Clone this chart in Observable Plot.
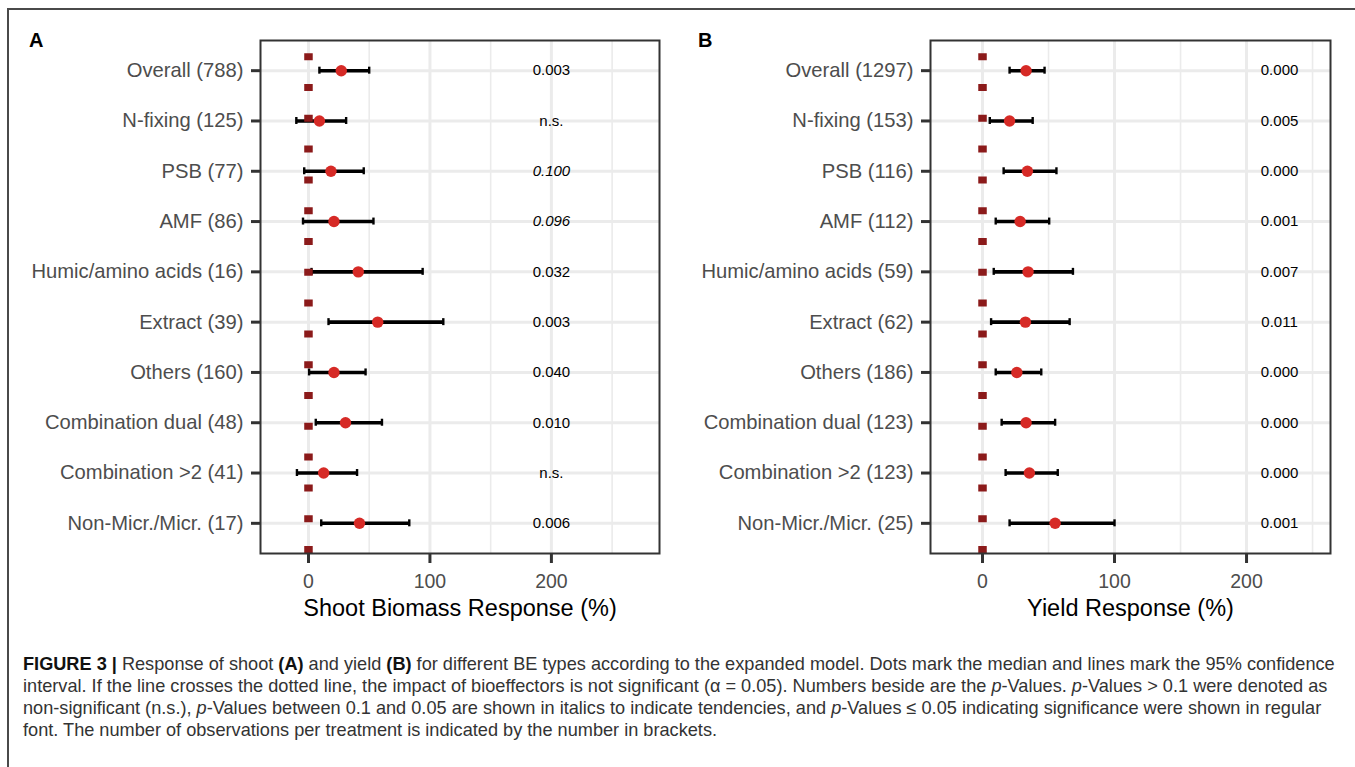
<!DOCTYPE html>
<html>
<head>
<meta charset="utf-8">
<script src="https://cdn.jsdelivr.net/npm/d3@7"></script>
<script src="https://cdn.jsdelivr.net/npm/@observablehq/plot@0.6"></script>
<style>
html, body { margin: 0; padding: 0; background: #fff; overflow: hidden; width: 1355px; height: 767px; }
#root { position: relative; width: 1355px; height: 767px; font-family: Arial, "Liberation Sans", Helvetica, sans-serif; overflow: hidden; background: #fff; }
.outer { position: absolute; left: 7px; top: 8px; width: 1500px; height: 900px; border: 2px solid #4a4a4a; box-sizing: border-box; }
.tag { position: absolute; top: 28px; font-weight: bold; font-size: 20px; color: #000; line-height: 24px; z-index: 2; }
#panelA { position: absolute; left: 0; top: 0; z-index: 1; }
#panelB { position: absolute; left: 680px; top: 0; z-index: 1; }
.caption { position: absolute; left: 23px; top: 653px; font-size: 18px; line-height: 22px; color: #333; }
.caption div { white-space: nowrap; }
.caption b { color: #111; }
</style>
</head>
<body>
<div id="root">
  <div class="outer"></div>
  <div id="panelA"></div>
  <div id="panelB"></div>
  <div class="tag" style="left:29px">A</div>
  <div class="tag" style="left:698px">B</div>
  <div class="caption" id="caption">
    <div id="cap1"><b>FIGURE 3 |</b> Response of shoot <b>(A)</b> and yield <b>(B)</b> for different BE types according to the expanded model. Dots mark the median and lines mark the 95% confidence</div>
    <div>interval. If the line crosses the dotted line, the impact of bioeffectors is not significant (α = 0.05). Numbers beside are the <i>p</i>-Values. <i>p</i>-Values &gt; 0.1 were denoted as</div>
    <div>non-significant (n.s.), <i>p</i>-Values between 0.1 and 0.05 are shown in italics to indicate tendencies, and <i>p</i>-Values ≤ 0.05 indicating significance were shown in regular</div>
    <div>font. The number of observations per treatment is indicated by the number in brackets.</div>
  </div>
</div>
<script>
// ---------- DATA ----------
const categories = ["Overall", "N-fixing", "PSB", "AMF", "Humic/amino acids", "Extract", "Others", "Combination dual", "Combination >2", "Non-Micr./Micr."];

// Panel A: shoot biomass response (%)
const shootN      = [788, 125, 77, 86, 16, 39, 160, 48, 41, 17];
const shootMedian = [27, 9, 18.5, 21, 41, 57, 21, 30.5, 12.5, 42];
const shootLow    = [9, -10, -3.5, -4.5, 2.5, 16.5, 0.5, 6, -9.5, 10.5];
const shootHigh   = [50, 31, 45.5, 53.5, 94, 111, 47, 60.5, 40, 83];
const shootP      = ["0.003", "n.s.", "0.100", "0.096", "0.032", "0.003", "0.040", "0.010", "n.s.", "0.006"];
const shootPColumn = 200;

// Panel B: yield response (%)
const yieldN      = [1297, 153, 116, 112, 59, 62, 186, 123, 123, 25];
const yieldMedian = [33, 20.5, 34, 28.5, 34.5, 32.5, 26, 33, 35.5, 55];
const yieldLow    = [20.5, 5.5, 16, 10, 8.5, 6.5, 10, 14.5, 17.5, 20.5];
const yieldHigh   = [47, 38, 56, 50.5, 68.5, 66, 44.5, 55, 57, 100];
const yieldP      = ["0.000", "0.005", "0.000", "0.001", "0.007", "0.011", "0.000", "0.000", "0.000", "0.001"];
const yieldPColumn = 225;

const xTicks = [0, 100, 200];
const xMinorTicks = [50, 150, 250];
const referenceLine = [0];

// ---------- DRAW ----------
function panel({n, median, low, high, p, pColumn, xDomain, title, width, marginLeft, marginRight}) {
  const rows = categories.map((c, i) => ({
    label: `${c} (${n[i]})`, lo: low[i], mid: median[i], hi: high[i], p: p[i],
    italic: p[i] !== "n.s." && +p[i] > 0.05
  }));
  const labels = rows.map(d => d.label);
  const height = 630, marginTop = 40, marginBottom = 77;
  const L = height - marginTop - marginBottom;
  const paddingOuter = 0.1;
  const step = L / (labels.length + 2 * paddingOuter);
  const capHalf = 3.5;
  const capInset = step / 2 - capHalf;
  const dash = 7, period = 30.8;
  const dashOffset = (((dash - L) % period) + period) % period;
  const grid = "#EBEBEB";
  return Plot.plot({
    width, height, marginLeft, marginRight, marginTop, marginBottom,
    style: {fontFamily: "Arial, 'Liberation Sans', Helvetica, sans-serif", background: "transparent", overflow: "visible"},
    x: {domain: xDomain, ticks: xTicks},
    y: {type: "band", domain: labels, paddingInner: 0, paddingOuter, round: false},
    marks: [
      Plot.ruleX(xMinorTicks, {stroke: grid, strokeWidth: 1.6}),
      Plot.ruleX(xTicks, {stroke: grid, strokeWidth: 3}),
      Plot.ruleY(labels, {y: d => d, stroke: grid, strokeWidth: 3}),
      Plot.ruleY(rows, {y: "label", x1: "lo", x2: "hi", stroke: "black", strokeWidth: 3.6}),
      Plot.tickX(rows, {x: "lo", y: "label", insetTop: capInset, insetBottom: capInset, stroke: "black", strokeWidth: 2.4}),
      Plot.tickX(rows, {x: "hi", y: "label", insetTop: capInset, insetBottom: capInset, stroke: "black", strokeWidth: 2.4}),
      Plot.ruleX(referenceLine, {stroke: "#8B1A1A", strokeWidth: 8.5, strokeDasharray: `${dash} ${period - dash}`, strokeDashoffset: dashOffset}),
      Plot.dot(rows, {x: "mid", y: "label", r: 5.7, fill: "#D62A26", stroke: "none"}),
      Plot.text(rows.filter(d => !d.italic), {x: () => pColumn, y: "label", text: "p", fontSize: 15, fill: "black"}),
      Plot.text(rows.filter(d => d.italic), {x: () => pColumn, y: "label", text: "p", fontSize: 15, fill: "black", fontStyle: "italic"}),
      Plot.frame({stroke: "#333", strokeWidth: 2}),
      Plot.axisX({ticks: xTicks, tickSize: 10, tickPadding: 11, fontSize: 19.5, label: null, stroke: "#333", strokeWidth: 3, fill: "#4D4D4D"}),
      Plot.axisY({tickSize: 9, tickPadding: 8, fontSize: 20.2, label: null, stroke: "#333", strokeWidth: 3, fill: "#4D4D4D"}),
      Plot.text([title], {frameAnchor: "bottom", dy: 62, fontSize: 23.5, fill: "black"})
    ]
  });
}

document.getElementById("panelA").appendChild(panel({
  n: shootN, median: shootMedian, low: shootLow, high: shootHigh, p: shootP, pColumn: shootPColumn,
  xDomain: [-39.5, 289], title: "Shoot Biomass Response (%)",
  width: 680, marginLeft: 260, marginRight: 21
}));
document.getElementById("panelB").appendChild(panel({
  n: yieldN, median: yieldMedian, low: yieldLow, high: yieldHigh, p: yieldP, pColumn: yieldPColumn,
  xDomain: [-39.4, 263.6], title: "Yield Response (%)",
  width: 675, marginLeft: 250, marginRight: 25
}));

// fit caption width to the reference column (first line spans to ~1335px)
const cap = document.getElementById("caption");
const w = document.getElementById("cap1").getBoundingClientRect().width;
const fs = 18 * 1312 / w;
cap.style.fontSize = fs.toFixed(2) + "px";
</script>
</body>
</html>
